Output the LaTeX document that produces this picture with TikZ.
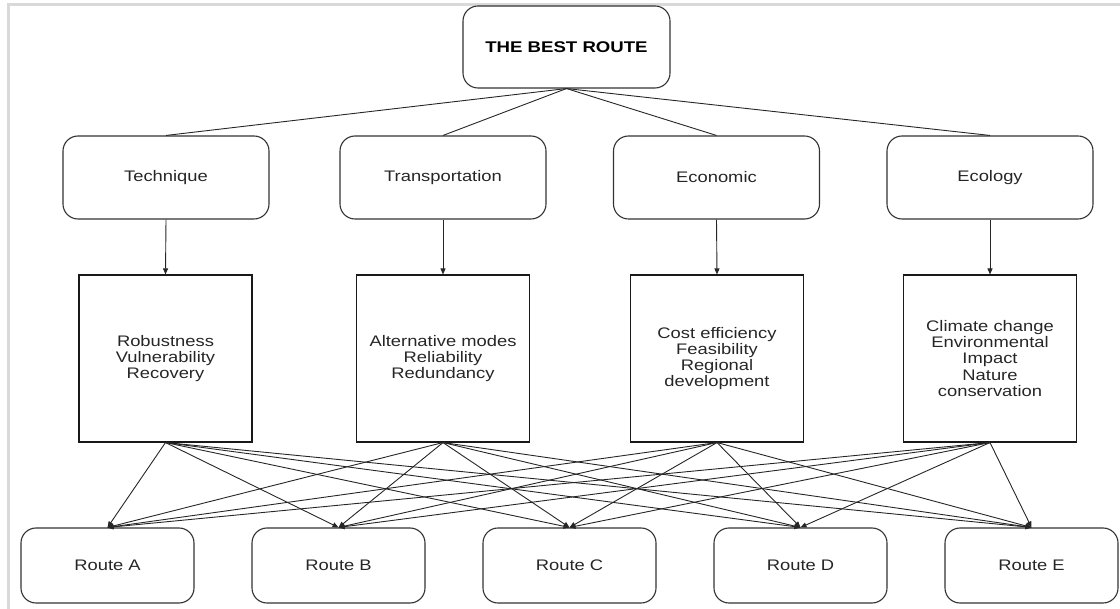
\documentclass[tikz,border=0pt]{standalone}
\usepackage{fontspec}
\setmainfont[FakeStretch=1.2]{Liberation Sans}
\usetikzlibrary{arrows.meta}
\tikzset{
  rbox/.style={draw=black!80, line width=1.1pt, rounded corners=15pt, align=center,
    font=\fontsize{15.3}{16.3}\selectfont, text=black!85, inner sep=0pt},
  sbox/.style={draw=black!90, line width=1.1pt, align=center,
    font=\fontsize{15.3}{16.3}\selectfont, text=black!85, inner sep=0pt,
    minimum width=173pt, minimum height=167pt},
  link/.style={draw=black!85, line width=0.9pt},
  arr/.style={link, -{Triangle[length=6pt,width=5pt]}},
  frameline/.style={draw=black!15, line width=2.5pt}
}
\begin{document}
\begin{tikzpicture}[x=1pt,y=-1pt]
\useasboundingbox (0,0) rectangle (1120,609);
\coordinate (f1) at (1120,4.5);
\coordinate (f2) at (8.5,4.5);
\coordinate (f3) at (8.5,609);
\draw[frameline] (f1) -- (f2) -- (f3);

\node[rbox, minimum width=207pt, minimum height=82pt, font=\fontsize{15.5}{16}\selectfont\bfseries, text=black] (top) at (566.5,47) {THE BEST ROUTE};

\node[rbox, minimum width=206pt, minimum height=83pt] (m1) at (166,177.5) {Technique};
\node[rbox, minimum width=206pt, minimum height=83pt] (m2) at (443,177.5) {Transportation};
\node[rbox, minimum width=206pt, minimum height=83pt] (m3) at (716.5,177.5) {Economic};
\node[rbox, minimum width=206pt, minimum height=83pt] (m4) at (990,177.5) {Ecology};

\node[sbox] (s1) at (165.5,358.5) {Robustness\\Vulnerability\\Recovery};
\node[sbox] (s2) at (443,358.5) {Alternative modes\\Reliability\\Redundancy};
\node[sbox] (s3) at (717,358.5) {Cost efficiency\\Feasibility\\Regional\\development};
\node[sbox] (s4) at (990,358.5) {Climate change\\Environmental\\Impact\\Nature\\conservation};

\node[rbox, minimum width=173pt, minimum height=75pt] (r1) at (107.5,565.5) {Route A};
\node[rbox, minimum width=173pt, minimum height=75pt] (r2) at (338.5,565.5) {Route B};
\node[rbox, minimum width=173pt, minimum height=75pt] (r3) at (569.5,565.5) {Route C};
\node[rbox, minimum width=173pt, minimum height=75pt] (r4) at (800.5,565.5) {Route D};
\node[rbox, minimum width=173pt, minimum height=75pt] (r5) at (1031.5,565.5) {Route E};

\foreach \m in {1,2,3,4} {
  \draw[link] (top.south) -- (m\m.north);
  \draw[arr] (m\m.south) -- (s\m.north);
}
\foreach \s in {1,2,3,4} {
  \foreach \r in {1,2,3,4,5} {
    \draw[arr] (s\s.south) -- (r\r.north);
  }
}
\end{tikzpicture}
\end{document}
